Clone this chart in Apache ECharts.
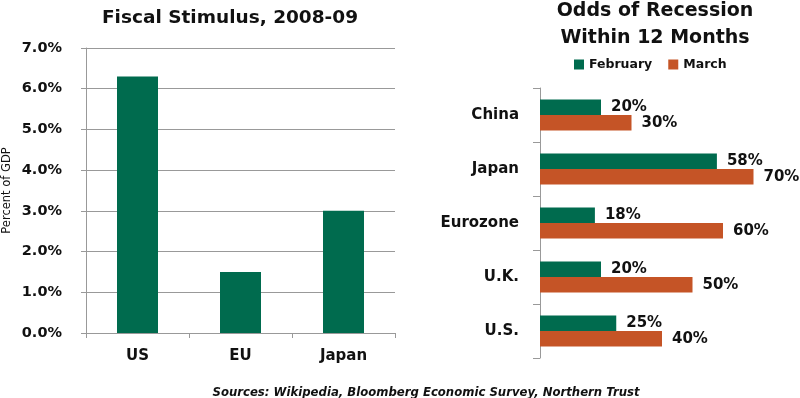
<!DOCTYPE html>
<html>
<head>
<meta charset="utf-8">
<script src="https://cdn.jsdelivr.net/npm/echarts@6/dist/echarts.min.js"></script>
<style>
  html, body { margin: 0; padding: 0; background: #fff; }
  #chart { width: 800px; height: 398px; }
</style>
</head>
<body>
<div id="chart"></div>
<script>
// fiscal stimulus, % of GDP
var fiscalCats = ['US', 'EU', 'Japan'];
var fiscalVals = [6.3, 1.5, 3.0];

// odds of recession within 12 months
var oddsCats = ['China', 'Japan', 'Eurozone', 'U.K.', 'U.S.'];
var febVals = [20, 58, 18, 20, 25];
var marVals = [30, 70, 60, 50, 40];

var green = '#006B4E';
var orange = '#C55426';
var font = 'DejaVu Sans';
var dark = '#111';

var chart = echarts.init(document.getElementById('chart'), null, { renderer: 'canvas' });

var barLabel = {
    show: true,
    position: 'right',
    distance: 10,
    formatter: '{c}%',
    color: dark,
    fontFamily: font,
    fontWeight: 'bold',
    fontSize: 15
};

chart.setOption({
    backgroundColor: '#fff',
    animation: false,
    title: [
        {
            text: 'Fiscal Stimulus, 2008-09',
            left: 225, top: 4, textAlign: 'center',
            textStyle: { fontFamily: font, fontWeight: 'bold', fontSize: 18.5, color: dark }
        },
        {
            text: 'Odds of Recession\nWithin 12 Months',
            left: 650, top: -7, textAlign: 'center',
            textStyle: { fontFamily: font, fontWeight: 'bold', fontSize: 19, lineHeight: 27, color: dark }
        },
        {
            text: 'Sources: Wikipedia, Bloomberg Economic Survey, Northern Trust',
            left: 421, top: 382, textAlign: 'center',
            textStyle: { fontFamily: font, fontWeight: 'bold', fontStyle: 'italic', fontSize: 11.7, color: dark }
        }
    ],
    legend: {
        data: ['February', 'March'],
        left: 569, top: 53,
        icon: 'rect', itemWidth: 10, itemHeight: 10, itemGap: 16,
        textStyle: { fontFamily: font, fontWeight: 'bold', fontSize: 12.5, color: dark }
    },
    grid: [
        { left: 82, top: 48, width: 313, height: 285 },
        { left: 540, top: 88, width: 244, height: 270 }
    ],
    xAxis: [
        {
            gridIndex: 0, type: 'category', data: fiscalCats,
            axisLine: { lineStyle: { color: '#999', width: 1 } },
            axisTick: { show: true, length: 5, lineStyle: { color: '#999' } },
            axisLabel: { margin: 16, color: dark, fontFamily: font, fontWeight: 'bold', fontSize: 15 }
        },
        {
            gridIndex: 1, type: 'value', min: 0, max: 80, show: false
        }
    ],
    yAxis: [
        {
            gridIndex: 0, type: 'value', min: 0, max: 7, interval: 1,
            name: 'Percent of GDP', nameLocation: 'middle', nameGap: 73,
            nameTextStyle: { fontFamily: font, fontSize: 11.5, color: dark },
            axisLine: { show: true, lineStyle: { color: '#999' } },
            axisTick: { show: true, length: 5, lineStyle: { color: '#999' } },
            splitLine: { lineStyle: { color: '#999' } },
            axisLabel: {
                margin: 24, color: dark, fontFamily: font, fontWeight: 'bold', fontSize: 14.5,
                formatter: function (v) { return v.toFixed(1) + '%'; }
            }
        },
        {
            gridIndex: 1, type: 'category', data: oddsCats, inverse: true,
            axisLine: { lineStyle: { color: '#999' } },
            axisTick: { show: true, length: 7, lineStyle: { color: '#999' } },
            axisLabel: { margin: 21, color: dark, fontFamily: font, fontWeight: 'bold', fontSize: 15 }
        }
    ],
    series: [
        {
            name: 'Stimulus', type: 'bar', xAxisIndex: 0, yAxisIndex: 0,
            data: fiscalVals, barWidth: 41,
            itemStyle: { color: green }
        },
        {
            name: 'February', type: 'bar', xAxisIndex: 1, yAxisIndex: 1,
            data: febVals, barGap: '0%', barCategoryGap: '43%',
            itemStyle: { color: green }, label: barLabel
        },
        {
            name: 'March', type: 'bar', xAxisIndex: 1, yAxisIndex: 1,
            data: marVals, barGap: '0%', barCategoryGap: '43%',
            itemStyle: { color: orange }, label: barLabel
        }
    ]
});
</script>
</body>
</html>
